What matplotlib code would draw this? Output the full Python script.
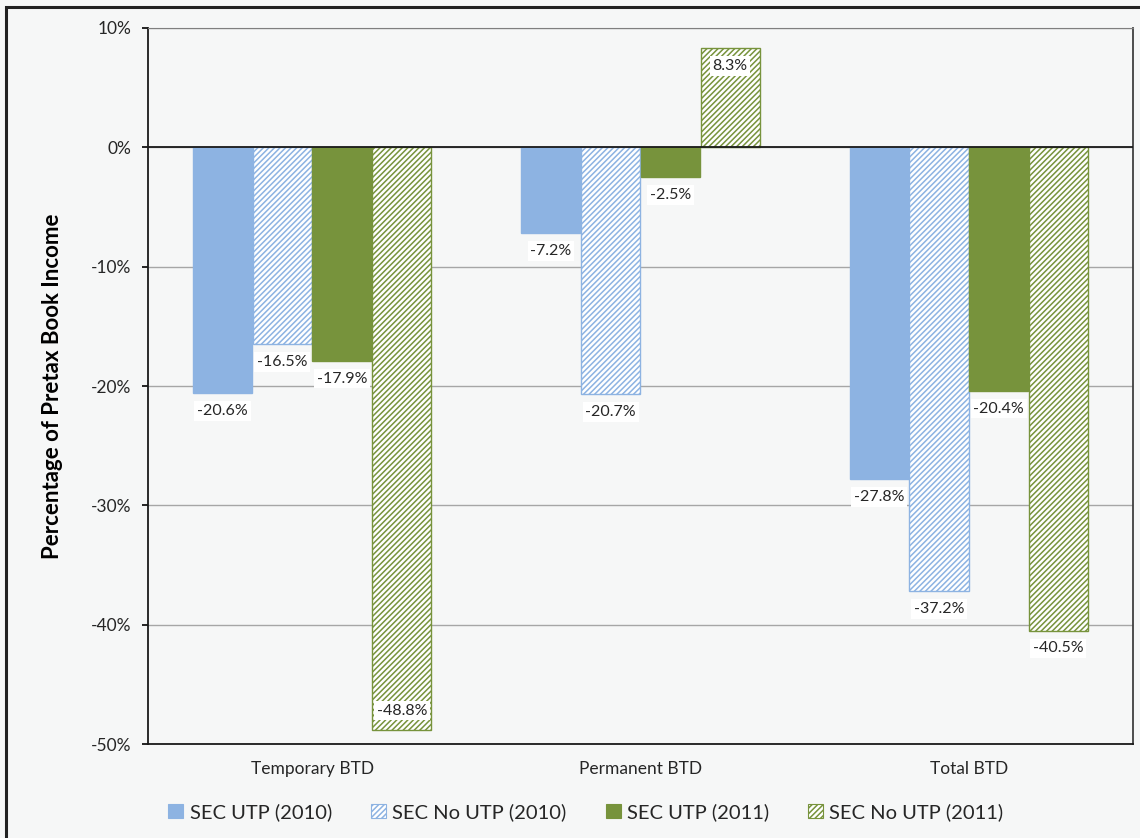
import numpy as np
import matplotlib.pyplot as plt
from matplotlib.patches import Patch, Rectangle
from matplotlib.ticker import FuncFormatter

categories = ['Temporary BTD', 'Permanent BTD', 'Total BTD']
series_names = ['SEC UTP (2010)', 'SEC No UTP (2010)', 'SEC UTP (2011)', 'SEC No UTP (2011)']
utp_2010 = [-20.6, -7.2, -27.8]
no_utp_2010 = [-16.5, -20.7, -37.2]
utp_2011 = [-17.9, -2.5, -20.4]
no_utp_2011 = [-48.8, 8.3, -40.5]

blue = '#8db3e2'
green = '#77933c'
bg = '#f6f7f7'

plt.rcParams['font.family'] = ['Lato', 'DejaVu Sans']
plt.rcParams['hatch.linewidth'] = 1.1

fig = plt.figure(figsize=(11.4, 8.38), dpi=100, facecolor=bg)
ax = fig.add_axes([148 / 1140, 1 - 744 / 838, (1133 - 148) / 1140, (744 - 28) / 838])
ax.set_facecolor(bg)

# outer chart frame
fig.patches.append(Rectangle((6 / 1140, -0.05), 1.1, 1 - 7 / 838 + 0.05,
                             transform=fig.transFigure, fill=False,
                             edgecolor='#222222', linewidth=2.2))

x = np.arange(len(categories))
width = 0.182
styles = [
    dict(color=blue, edgecolor=blue, hatch=None),
    dict(color='white', edgecolor=blue, hatch='//////'),
    dict(color=green, edgecolor=green, hatch=None),
    dict(color='white', edgecolor=green, hatch='//////'),
]
data = [utp_2010, no_utp_2010, utp_2011, no_utp_2011]
ymin, ymax = -50, 10
lbl = dict(ha='center', fontsize=11.5, color='#262626', zorder=5,
           bbox=dict(facecolor='white', edgecolor='none', pad=2))

for i, (vals, st) in enumerate(zip(data, styles)):
    pos = x + (i - 1.5) * width
    ax.bar(pos, vals, width * 0.99, facecolor=st['color'], edgecolor=st['edgecolor'],
           hatch=st['hatch'], linewidth=1.0, zorder=3)
    for px, v in zip(pos, vals):
        txt = f'{v:.1f}%'
        # labels go just past the bar end, or inside it when they would leave the plot
        if v < 0:
            if v - 4 < ymin:
                ax.text(px, v + 1.0, txt, va='bottom', **lbl)
            else:
                ax.text(px, v - 0.9, txt, va='top', **lbl)
        else:
            if v + 4 > ymax:
                ax.text(px, v - 0.9, txt, va='top', **lbl)
            else:
                ax.text(px, v + 0.9, txt, va='bottom', **lbl)

ax.set_xlim(-0.5, 2.5)
ax.set_ylim(ymin, ymax)
ax.set_yticks(np.arange(-50, 11, 10))
ax.yaxis.set_major_formatter(FuncFormatter(lambda v, p: f'{v:.0f}%'))
ax.set_xticks(x)
ax.set_xticklabels(categories, fontsize=12.5, color='#262626')
ax.tick_params(axis='x', length=0, pad=12)
ax.tick_params(axis='y', direction='out', length=4, width=1.2, labelsize=12.5,
               labelcolor='#262626', pad=8)

ax.grid(axis='y', color='#a6a6a6', linewidth=1.0, zorder=0)
ax.axhline(0, color='#1a1a1a', linewidth=1.3, zorder=4)

ax.spines['left'].set_color('#1a1a1a')
ax.spines['left'].set_linewidth(1.3)
ax.spines['bottom'].set_color('#1a1a1a')
ax.spines['bottom'].set_linewidth(1.3)
ax.spines['top'].set_color('#7f7f7f')
ax.spines['right'].set_color('#404040')
ax.spines['right'].set_linewidth(1.3)

ax.set_ylabel('Percentage of Pretax Book Income', fontsize=16, fontweight='bold',
              color='black', labelpad=20)

handles = [Patch(facecolor=st['color'], edgecolor=st['edgecolor'], hatch=st['hatch'],
                 linewidth=0.8, label=n) for st, n in zip(styles, series_names)]
fig.legend(handles=handles, loc='center', bbox_to_anchor=(0.514, 1 - 812 / 838), ncol=4,
           frameon=False, fontsize=14.5, handlelength=0.75, handleheight=0.75,
           handletextpad=0.3, columnspacing=1.95, labelcolor='#262626')

fig.savefig('out.png', dpi=100, facecolor=bg)
